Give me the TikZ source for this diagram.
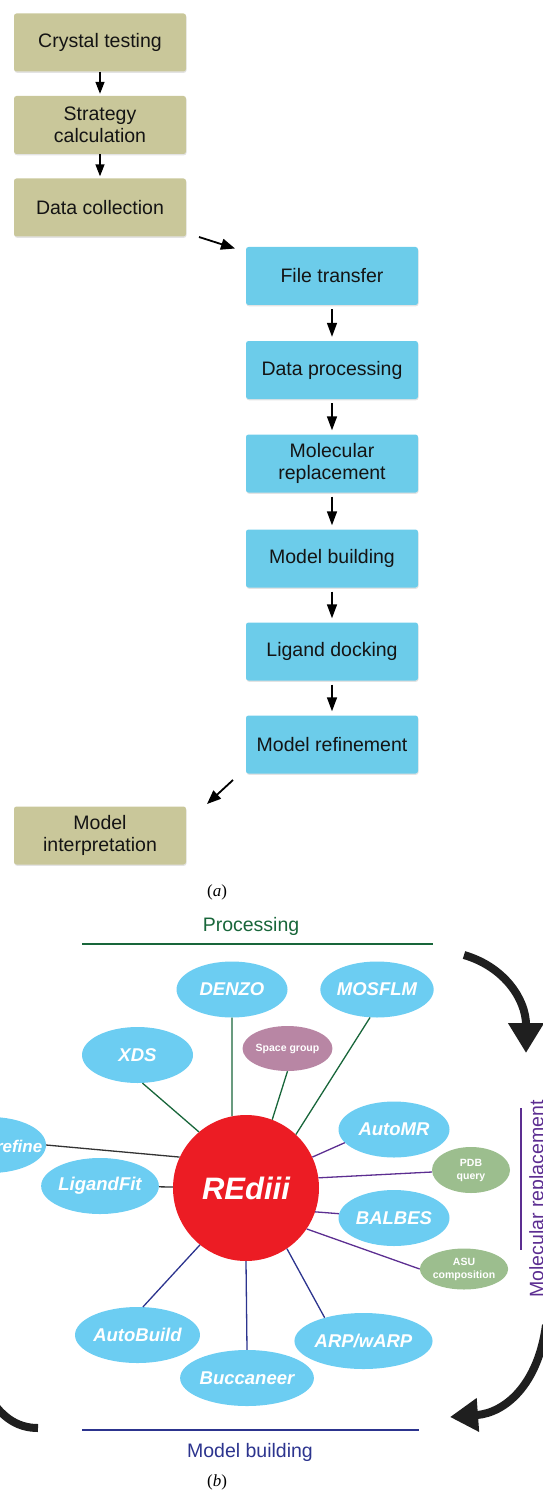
\documentclass[tikz,border=0pt]{standalone}
\usepackage{fontspec}
\setmainfont{Liberation Sans}
\newfontfamily\capserif{Liberation Serif}
\usetikzlibrary{arrows.meta,shapes.geometric,shadows}
\definecolor{tanbox}{RGB}{201,199,154}
\definecolor{cybox}{RGB}{108,204,234}
\definecolor{ellblue}{RGB}{108,205,242}
\definecolor{redc}{RGB}{236,28,36}
\definecolor{mauve}{RGB}{184,134,164}
\definecolor{sage}{RGB}{156,190,142}
\definecolor{dgreen}{RGB}{24,102,58}
\definecolor{purp}{RGB}{92,46,145}
\definecolor{navy}{RGB}{44,52,142}
\begin{document}
\begin{tikzpicture}[x=1pt,y=-1pt,
  box/.style={rectangle, rounded corners=2.5pt, minimum width=172pt, minimum height=58pt,
    inner sep=0pt, align=center, font={\fontsize{19.5}{21.5}\selectfont}, text=black!92,
    drop shadow={shadow xshift=0.5pt, shadow yshift=-1.3pt, opacity=0.22}},
  tanb/.style={box, fill=tanbox},
  cyb/.style={box, fill=cybox},
  flowL/.style={-{Triangle[length=12pt,width=9pt]}, line width=1.5pt, shorten >=2pt},
  flowR/.style={-{Triangle[length=14pt,width=10pt]}, line width=1.6pt, shorten >=4pt, shorten <=4pt},
  diag/.style={-{Triangle[length=14pt,width=11pt]}, line width=1.8pt},
  ell/.style={ellipse, fill=ellblue, minimum width=111pt, minimum height=56pt, inner sep=0pt,
    text=white, font={\fontsize{18.5}{20}\selectfont\bfseries\itshape}},
  sm/.style={ellipse, minimum width=77pt, minimum height=45pt, inner sep=0pt, text=white,
    align=center, font={\fontsize{10.5}{13}\selectfont\bfseries}},
  gl/.style={draw=dgreen, line width=1.3pt},
  kl/.style={draw=black!80, line width=1.3pt},
  pl/.style={draw=purp, line width=1.3pt},
  bl/.style={draw=navy, line width=1.3pt},
  big/.style={line width=8pt, draw=black!88, -{Triangle[length=30pt,width=34pt]}},
  captxt/.style={font={\capserif\fontsize{17}{20}\selectfont}, inner sep=0pt}
]
\useasboundingbox (0,0) rectangle (542,1495);

% ---------- (a) ----------
\node[tanb] (ct) at (100,42.5) {Crystal testing};
\node[tanb] (sc) at (100,125) {Strategy\\calculation};
\node[tanb] (dc) at (100,207.5) {Data collection};
\node[cyb] (ft) at (332,276) {File transfer};
\node[cyb] (dp) at (332,370) {Data processing};
\node[cyb] (mr) at (332,463.5) {Molecular\\replacement};
\node[cyb] (mb) at (332,558.5) {Model building};
\node[cyb] (ld) at (332,651.5) {Ligand docking};
\node[cyb] (mf) at (332,744.5) {Model refinement};
\node[tanb] (mi) at (100,835.5) {Model\\interpretation};

\draw[flowL] (ct) -- (sc);
\draw[flowL] (sc) -- (dc);
\draw[flowR] (ft) -- (dp);
\draw[flowR] (dp) -- (mr);
\draw[flowR] (mr) -- (mb);
\draw[flowR] (mb) -- (ld);
\draw[flowR] (ld) -- (mf);

\coordinate (d1) at (199,237);
\coordinate (d2) at (235,248.5);
\draw[diag] (d1) -- (d2);
\coordinate (e1) at (233,780);
\coordinate (e2) at (207,804);
\draw[diag] (e1) -- (e2);

\node[captxt] (capa) at (217,892) {(\textit{a})};

% ---------- (b) ----------
\node[font={\fontsize{19.5}{21}\selectfont}, text=dgreen] (proc) at (251,926) {Processing};
\draw[dgreen, line width=1.3pt] (82,944) -- (433,944);

\node[font={\fontsize{19.5}{21}\selectfont}, text=navy] (mbl) at (250,1452) {Model building};
\draw[navy, line width=1.3pt] (82,1430) -- (419,1430);

\draw[purp, line width=1.3pt] (521,1108) -- (521,1250);
\node[rotate=90, anchor=north, inner sep=0pt, text=purp, font={\fontsize{19.5}{21}\selectfont}] (molr) at (529,1199) {Molecular replacement};

\node[circle, fill=redc, minimum size=146pt, inner sep=0pt, text=white,
  font={\fontsize{31}{33}\selectfont\bfseries\itshape}] (c) at (246,1188) {REdiii};

\node[ell] (denzo) at (232,989.5) {DENZO};
\node[ell] (mos) at (377,989.5) {MOSFLM};
\node[ell] (xds) at (137.5,1055) {XDS};
\node[sm, fill=mauve, minimum width=75pt] (sg) at (287.5,1048.5) {Space group};
\node[ell] (ref) at (-9.5,1145) {};
\node[inner sep=0pt, anchor=east, text=white, font={\fontsize{17}{19}\selectfont\bfseries\itshape}] (reft) at (42.5,1146) {refine};
\node[ell] (lig) at (100,1186) {LigandFit};
\node[ell] (amr) at (394,1129.5) {AutoMR};
\node[sm, fill=sage, minimum width=78pt, minimum height=46pt] (pdb) at (471,1170) {PDB\\query};
\node[ell] (bal) at (394,1218) {BALBES};
\node[sm, fill=sage, minimum width=76pt, minimum height=41pt] (asu) at (464,1269) {ASU\\composition};
\node[ell] (ab) at (137.5,1335) {AutoBuild};
\node[ell] (buc) at (247,1378) {Buccaneer};
\node[ell] (arp) at (363.5,1341) {ARP/wARP};

\draw[gl] (xds.-80) -- (c.130);
\draw[gl] (denzo.south) -- (c.101);
\draw[gl] (sg.south) -- (c.69);
\draw[gl] (mos.-104) -- (c.47);
\draw[kl] (ref.east) -- (c.155);
\draw[kl] (lig) -- (c);
\draw[pl] (amr.-165) -- (c.25);
\draw[pl] (pdb) -- (c.8);
\draw[pl] (bal) -- (c.-19);
\draw[pl] (asu.west) -- (c.-34);
\draw[bl] (ab.79) -- (c.-129);
\draw[bl] (buc.north) -- (c.south);
\draw[bl] (arp.149) -- (c.-56);

% big cycle arrows
\draw[big] (464,955) .. controls (505,967) and (526,1000) .. (526,1053);
\draw[big, -{Triangle[length=28pt,width=32pt]}] (546,1325) .. controls (538,1385) and (505,1413) .. (450,1417);
\draw[line width=8pt, draw=black!88] (-14,1392) .. controls (0,1416) and (16,1428) .. (38,1428);

\node[captxt] (capb) at (217,1482) {(\textit{b})};
\end{tikzpicture}
\end{document}
